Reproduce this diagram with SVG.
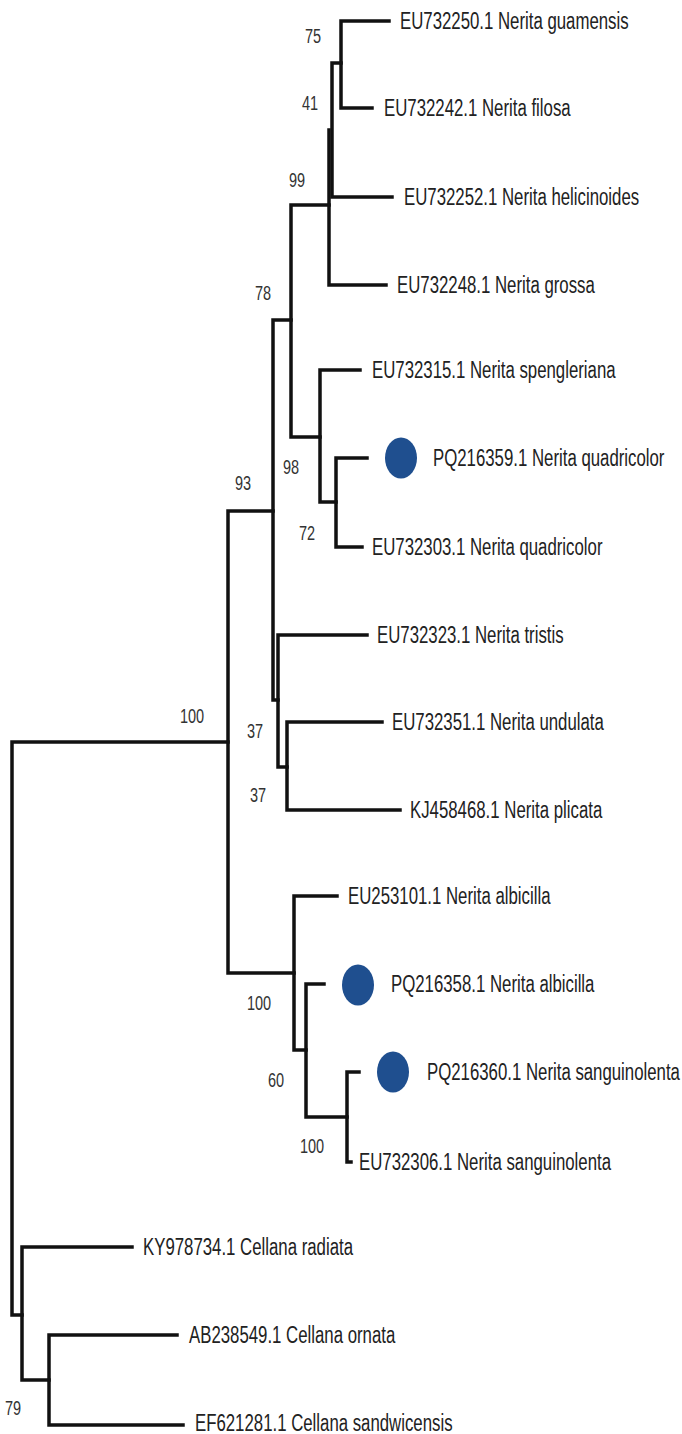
<svg xmlns="http://www.w3.org/2000/svg" width="682" height="1434" viewBox="0 0 682 1434">
<style>
.br{fill:none;stroke:#111;stroke-width:3.5;stroke-linecap:square}
.lb{font-family:"Liberation Sans",Arial,sans-serif;font-size:16.8px;fill:#222}
.bs{font-family:"Liberation Sans",Arial,sans-serif;font-size:14.5px;fill:#333}
.dot{fill:#1f4f8f}
</style>
<rect width="682" height="1434" fill="#fff"/>
<g id="connectors">
<path class="br" d="M12,742 V1315 M12,742 H228 M12,1315 H22"/>
<path class="br" d="M228,511 V973 M228,511 H273 M228,973 H294"/>
<path class="br" d="M273,320 V700 M273,320 H291 M273,700 H278"/>
<path class="br" d="M291,205 V437 M291,205 H329 M291,437 H320"/>
<path class="br" d="M329,130 V285 M329,285 H386"/>
<path class="br" d="M332,63 V197 M332,197 H392 M332,63 H341"/>
<path class="br" d="M341,21 V108 M341,21 H389 M341,108 H372"/>
<path class="br" d="M320,370 V502 M320,370 H360 M320,502 H336"/>
<path class="br" d="M336,458 V547 M336,458 H367 M336,547 H362"/>
<path class="br" d="M278,635 V767 M278,635 H367 M278,767 H287"/>
<path class="br" d="M287,722 V810 M287,722 H382 M287,810 H400"/>
<path class="br" d="M294,896 V1050 M294,896 H337 M294,1050 H306"/>
<path class="br" d="M306,984 V1117 M306,984 H324 M306,1117 H347"/>
<path class="br" d="M347,1072 V1162 M347,1072 H359 M347,1162 H351"/>
<path class="br" d="M22,1247 V1380 M22,1247 H132 M22,1380 H49"/>
<path class="br" d="M49,1335 V1425 M49,1335 H177 M49,1425 H183"/>
</g>
<g id="bootstrap">
<text class="bs" transform="translate(305,43) scale(1,1.4)">75</text>
<text class="bs" transform="translate(302,110) scale(1,1.4)">41</text>
<text class="bs" transform="translate(289,187) scale(1,1.4)">99</text>
<text class="bs" transform="translate(255,300) scale(1,1.4)">78</text>
<text class="bs" transform="translate(283,474) scale(1,1.4)">98</text>
<text class="bs" transform="translate(235,490) scale(1,1.4)">93</text>
<text class="bs" transform="translate(299,540) scale(1,1.4)">72</text>
<text class="bs" transform="translate(180,723) scale(1,1.4)">100</text>
<text class="bs" transform="translate(247,738) scale(1,1.4)">37</text>
<text class="bs" transform="translate(250,802) scale(1,1.4)">37</text>
<text class="bs" transform="translate(247,1010) scale(1,1.4)">100</text>
<text class="bs" transform="translate(268,1087) scale(1,1.4)">60</text>
<text class="bs" transform="translate(300,1153) scale(1,1.4)">100</text>
<text class="bs" transform="translate(5,1415) scale(1,1.4)">79</text>
</g>
<g id="n-EU732250"><text class="lb" transform="translate(400,29) scale(1,1.4)">EU732250.1 Nerita guamensis</text></g>
<g id="n-EU732242"><text class="lb" transform="translate(384,116) scale(1,1.4)">EU732242.1 Nerita filosa</text></g>
<g id="n-EU732252"><text class="lb" transform="translate(404,205) scale(1,1.4)">EU732252.1 Nerita helicinoides</text></g>
<g id="n-EU732248"><text class="lb" transform="translate(397,293) scale(1,1.4)">EU732248.1 Nerita grossa</text></g>
<g id="n-EU732315"><text class="lb" transform="translate(372,378) scale(1,1.4)">EU732315.1 Nerita spengleriana</text></g>
<g id="n-PQ216359"><ellipse class="dot" cx="401" cy="458" rx="16" ry="20.5"/><text class="lb" transform="translate(433,466) scale(1,1.4)">PQ216359.1 Nerita quadricolor</text></g>
<g id="n-EU732303"><text class="lb" transform="translate(372,555) scale(1,1.4)">EU732303.1 Nerita quadricolor</text></g>
<g id="n-EU732323"><text class="lb" transform="translate(377,643) scale(1,1.4)">EU732323.1 Nerita tristis</text></g>
<g id="n-EU732351"><text class="lb" transform="translate(392,730) scale(1,1.4)">EU732351.1 Nerita undulata</text></g>
<g id="n-KJ458468"><text class="lb" transform="translate(410,818) scale(1,1.4)">KJ458468.1 Nerita plicata</text></g>
<g id="n-EU253101"><text class="lb" transform="translate(348,904) scale(1,1.4)">EU253101.1 Nerita albicilla</text></g>
<g id="n-PQ216358"><ellipse class="dot" cx="358" cy="985" rx="16" ry="20.5"/><text class="lb" transform="translate(391,992) scale(1,1.4)">PQ216358.1 Nerita albicilla</text></g>
<g id="n-PQ216360"><ellipse class="dot" cx="393" cy="1072" rx="16" ry="20.5"/><text class="lb" transform="translate(427,1080) scale(1,1.4)">PQ216360.1 Nerita sanguinolenta</text></g>
<g id="n-EU732306"><text class="lb" transform="translate(359,1170) scale(1,1.4)">EU732306.1 Nerita sanguinolenta</text></g>
<g id="n-KY978734"><text class="lb" transform="translate(143,1255) scale(1,1.4)">KY978734.1 Cellana radiata</text></g>
<g id="n-AB238549"><text class="lb" transform="translate(189,1343) scale(1,1.4)">AB238549.1 Cellana ornata</text></g>
<g id="n-EF621281"><text class="lb" transform="translate(195,1431) scale(1,1.4)">EF621281.1 Cellana sandwicensis</text></g>
</svg>
